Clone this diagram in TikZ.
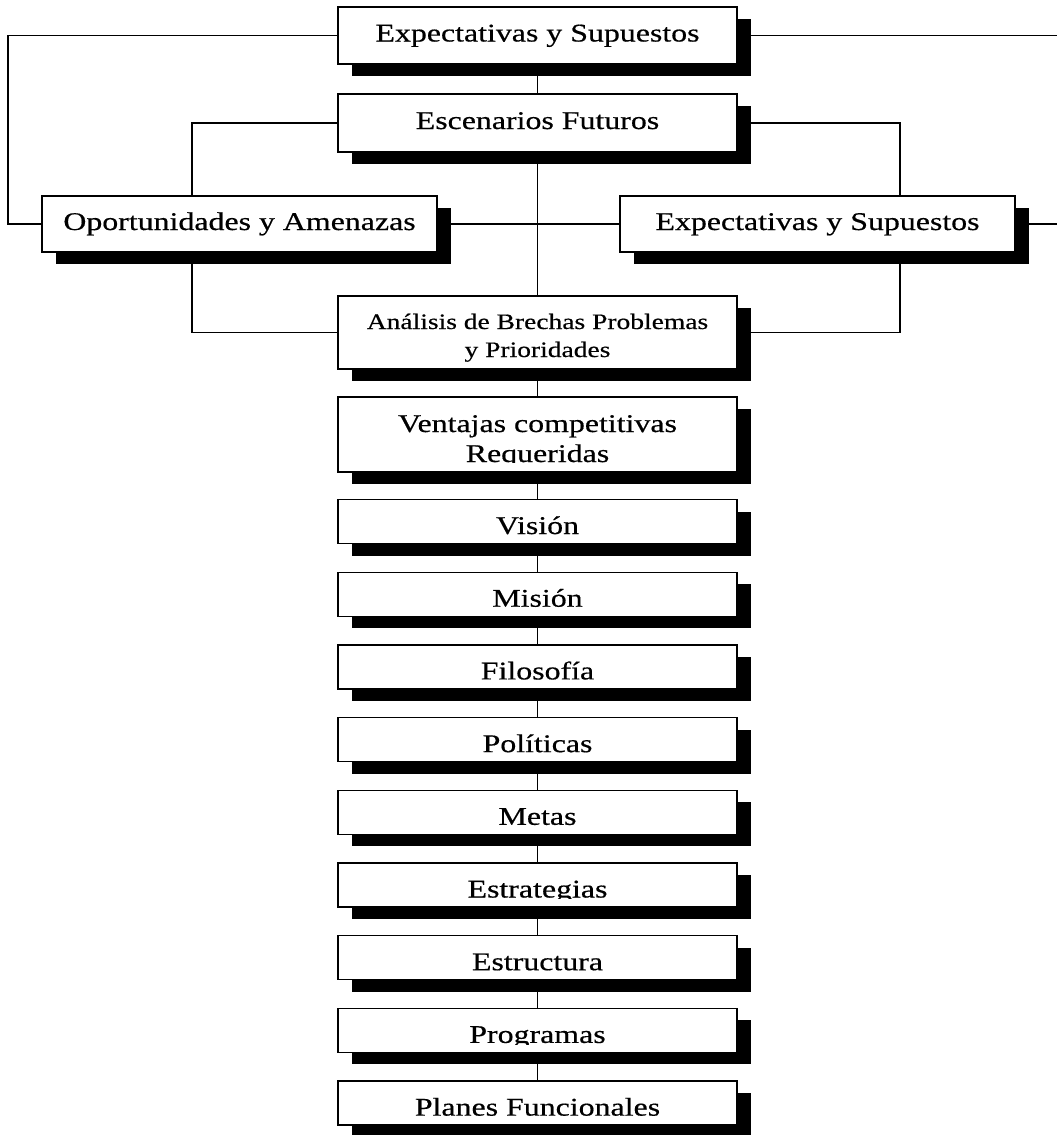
\documentclass[tikz,border=0pt]{standalone}
\usepackage{fontspec}
\setmainfont{Liberation Serif}[FakeStretch=1.25,FakeBold=0.5]
\usetikzlibrary{shadows,calc}
\tikzset{
  caja/.style={draw,line width=1.4pt,fill=white,minimum width=399pt,align=center,
    inner sep=2pt,text height=12pt,text depth=0pt,
    font=\fontsize{25.5}{30}\selectfont,
    drop shadow={shadow xshift=14pt,shadow yshift=-12pt,fill=black,opacity=1}},
  bajo/.style={caja,text height=25pt},
  cajita/.style={bajo,minimum height=44pt},
  liga/.style={line width=1.4pt},
  corte/.style={fill=white}
}

\begin{document}
\begin{tikzpicture}[x=1pt,y=-1pt]
  \useasboundingbox (0,0) rectangle (1057,1135);
  \node[caja,minimum height=57pt] (expa) at (537.5,35.5) {Expectativas y Supuestos};
  \node[caja,minimum height=58pt] (esc) at (537.5,123) {Escenarios Futuros};
  \node[caja,minimum height=56pt,minimum width=395pt] (opo) at (239.5,224) {Oportunidades y Amenazas};
  \node[caja,minimum height=56pt,minimum width=395pt] (expb) at (817.5,224) {Expectativas y Supuestos};
  \node[bajo,minimum height=73pt,text height=49pt,font=\fontsize{22}{28}\selectfont] (bre) at (537.5,332.5)
    {Análisis de Brechas Problemas\\y Prioridades};
  \node[bajo,minimum height=75pt,text height=55pt] (ven) at (537.5,434.5) {Ventajas competitivas\\Requeridas};
  \foreach \nom/\txt [count=\i] in {vis/Visión,mis/Misión,fil/Filosofía,pol/Políticas,met/Metas,
      est/Estrategias,esu/Estructura,pro/Programas,pla/Planes Funcionales}
    \node[cajita] (\nom) at (537.5,{521.5+72.7*(\i-1)}) {\txt};
  % descendentes cortados
  \foreach \nom/\h in {ven/10pt,est/8.5pt,pro/8.5pt}
    \fill[corte] ([xshift=1.3pt,yshift=1.3pt]\nom.south west) rectangle ([xshift=-1.3pt,yshift=\h]\nom.south east);
  \coordinate (bordeI) at (8,0);
  \coordinate (bordeD) at (1057,0);
  \coordinate (ramI) at (192,0);
  \coordinate (ramD) at (900,0);
  \draw[liga] (expa.west) -- (expa.west -| bordeI) |- (opo.west);
  \draw[liga] (expa.east) -- (expa.east -| bordeD);
  \draw[liga] (expb.east) -- (expb.east -| bordeD);
  \draw[liga] (expa.south) -- (esc.north);
  \draw[liga] (esc.west) -| (ramI |- opo.north);
  \draw[liga] (esc.east) -| (ramD |- expb.north);
  \draw[liga] (esc.south) -- (bre.north);
  \draw[liga] (opo.east) -- (expb.west);
  \draw[liga] (opo.south -| ramI) |- (bre.west);
  \draw[liga] (expb.south -| ramD) |- (bre.east);
  \draw[liga] (bre.south) -- (ven.north);
  \foreach \a/\b in {ven/vis,vis/mis,mis/fil,fil/pol,pol/met,met/est,est/esu,esu/pro,pro/pla}
    \draw[liga] (\a.south) -- (\b.north);
\end{tikzpicture}
\end{document}
